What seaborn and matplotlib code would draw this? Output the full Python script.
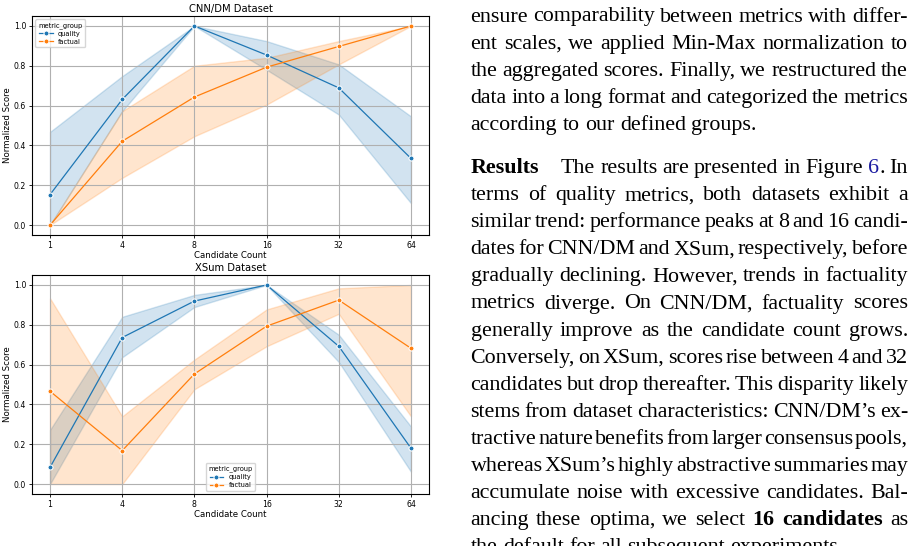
import matplotlib
matplotlib.use("Agg")
import matplotlib.pyplot as plt
import numpy as np
import pandas as pd
import seaborn as sns

# candidate counts (categorical x axis)
counts = ["1", "4", "8", "16", "32", "64"]

# CNN/DM: normalized mean score and band (lower / upper)
cnn_quality = [0.153, 0.631, 1.0, 0.854, 0.689, 0.335]
cnn_quality_lo = [0.0, 0.572, 1.0, 0.78, 0.555, 0.11]
cnn_quality_hi = [0.468, 0.748, 1.0, 0.924, 0.807, 0.546]
cnn_factual = [0.0, 0.421, 0.643, 0.793, 0.897, 1.0]
cnn_factual_lo = [0.0, 0.237, 0.446, 0.605, 0.807, 1.0]
cnn_factual_hi = [0.0, 0.572, 0.80, 0.84, 0.924, 1.0]

# XSum
xsum_quality = [0.084, 0.736, 0.919, 1.0, 0.692, 0.18]
xsum_quality_lo = [0.0, 0.637, 0.889, 1.0, 0.613, 0.062]
xsum_quality_hi = [0.272, 0.84, 0.95, 1.0, 0.75, 0.289]
xsum_factual = [0.466, 0.168, 0.553, 0.793, 0.924, 0.682]
xsum_factual_lo = [0.0, 0.0, 0.476, 0.692, 0.855, 0.34]
xsum_factual_hi = [0.933, 0.34, 0.625, 0.877, 0.983, 1.0]

para1 = [
    "ensure comparability between metrics with differ-",
    "ent scales, we applied Min-Max normalization to",
    "the aggregated scores. Finally, we restructured the",
    "data into a long format and categorized the metrics",
    "according to our defined groups.",
]
para2 = [
    "*Results The results are presented in Figure #6. In",
    "terms of quality metrics, both datasets exhibit a",
    "similar trend: performance peaks at 8 and 16 candi-",
    "dates for CNN/DM and XSum, respectively, before",
    "gradually declining. However, trends in factuality",
    "metrics diverge.  On CNN/DM, factuality scores",
    "generally improve as the candidate count grows.",
    "Conversely, on XSum, scores rise between 4 and 32",
    "candidates but drop thereafter. This disparity likely",
    "stems from dataset characteristics: CNN/DM\u2019s ex-",
    "tractive nature benefits from larger consensus pools,",
    "whereas XSum\u2019s highly abstractive summaries may",
    "accumulate noise with excessive candidates. Bal-",
    "ancing these optima, we select *16 *candidates as",
    "the default for all subsequent experiments.",
]


def make_long(q, q_lo, q_hi, f, f_lo, f_hi):
    # three rows per point: lower, mean, upper -> median gives the mean,
    # min/max give the band
    rows = []
    for group, vals in (("quality", (q_lo, q, q_hi)), ("factual", (f_lo, f, f_hi))):
        for series in vals:
            for c, v in zip(counts, series):
                rows.append({"Candidate Count": c, "Normalized Score": v, "metric_group": group})
    return pd.DataFrame(rows)


W, H = 916, 546
fig = plt.figure(figsize=(W / 100, H / 100), dpi=100)

panels = [
    ("CNN/DM Dataset", make_long(cnn_quality, cnn_quality_lo, cnn_quality_hi,
                                 cnn_factual, cnn_factual_lo, cnn_factual_hi),
     [32 / W, 1 - 235 / H, 397 / W, 219 / H], "upper left"),
    ("XSum Dataset", make_long(xsum_quality, xsum_quality_lo, xsum_quality_hi,
                               xsum_factual, xsum_factual_lo, xsum_factual_hi),
     [32 / W, 1 - 494 / H, 397 / W, 219 / H], "lower center"),
]

for title, df, rect, loc in panels:
    ax = fig.add_axes(rect)
    sns.lineplot(data=df, x="Candidate Count", y="Normalized Score", hue="metric_group",
                 estimator="median", errorbar=lambda v: (v.min(), v.max()),
                 marker="o", markersize=3.6, linewidth=0.9, ax=ax)
    ax.grid(True, color="#b0b0b0", linewidth=0.8)
    ax.set_title(title, fontsize=7.2, pad=3)
    ax.set_xlabel("Candidate Count", fontsize=6.2, labelpad=1)
    ax.set_ylabel("Normalized Score", fontsize=6.2, labelpad=1)
    ax.tick_params(labelsize=5.6, length=2.2, width=0.6, pad=2)
    for s in ax.spines.values():
        s.set_linewidth(0.8)
    sns.move_legend(ax, loc, fontsize=4.8, title_fontsize=4.8, frameon=True,
                    handlelength=2.0, borderpad=0.4, labelspacing=0.3)

# text column on the right, justified line by line
renderer = fig.canvas.get_renderer()
fs = 15.8
x0, x1 = 470.5, 908.0
link = "#1a1aa0"


def word_parts(w):
    if w.startswith("*"):
        return [(w[1:], "bold", "black")]
    if "#" in w:
        a, b = w.split("#")
        return [(a, "normal", "black"), (b[0], "normal", link), (b[1:], "normal", "black")]
    return [(w, "normal", "black")]


def measure(parts):
    tot = 0
    for t, wt, col in parts:
        if t:
            tt = fig.text(0, 0, t, fontsize=fs, family="Liberation Serif", fontweight=wt)
            tot += tt.get_window_extent(renderer).width
            tt.remove()
    return tot


def draw_line(line, ybase, justify, first_gap=0.0):
    words = [word_parts(w) for w in line.split()]
    widths = [measure(p) for p in words]
    space = fs * 100 / 72 * 0.25
    if justify and len(words) > 1:
        gap = (x1 - x0 - sum(widths) - first_gap) / (len(words) - 1)
    else:
        gap = space
    x = x0
    for i, (parts, w) in enumerate(zip(words, widths)):
        xx = x
        for t, wt, col in parts:
            if not t:
                continue
            tt = fig.text(xx / W, 1 - ybase / H, t, fontsize=fs, family="Liberation Serif",
                          fontweight=wt, color=col, va="baseline", ha="left")
            xx += tt.get_window_extent(renderer).width
        x += w + gap + (first_gap if i == 0 else 0)


lh = 27.1
for i, line in enumerate(para1):
    draw_line(line, 21.5 + i * lh, i < len(para1) - 1)
for i, line in enumerate(para2):
    draw_line(line, 173.0 + i * lh, i < len(para2) - 1, first_gap=17.0 if i == 0 else 0.0)

fig.savefig("out.png", dpi=100)
